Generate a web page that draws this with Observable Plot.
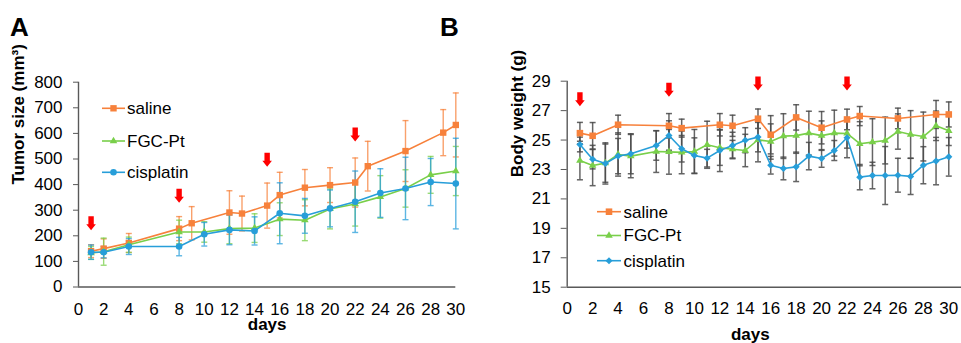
<!DOCTYPE html>
<html>
<head>
<meta charset="utf-8">
<script src="https://cdn.jsdelivr.net/npm/d3@7"></script>
<script src="https://cdn.jsdelivr.net/npm/@observablehq/plot@0.6"></script>
<style>
  html, body { margin: 0; padding: 0; background: #fff; }
  #wrap { position: relative; width: 961px; height: 343px; overflow: hidden;
          font-family: "Liberation Sans", Arial, Helvetica, sans-serif; background: #fff; }
  #wrap > svg, #wrap > div.p { position: absolute; top: 0; }
  .tag { position: absolute; top: 12px; font-weight: bold; font-size: 26px; line-height: 30px; }
  #legend { position: absolute; left: 0; top: 0; }
</style>
</head>
<body>
<div id="wrap"></div>
<script>
// ---------------- data ----------------
const seriesNames = ["saline", "FGC-Pt", "cisplatin"];
const seriesColors = ["#F7813B", "#79CF4A", "#279ED9"];
const symbolsA = ["square", "triangle", "circle"];
const symbolsB = ["square", "triangle", "diamond2"];

const xTicks = [0, 2, 4, 6, 8, 10, 12, 14, 16, 18, 20, 22, 24, 26, 28, 30];
const yTicksA = [0, 100, 200, 300, 400, 500, 600, 700, 800];
const yTicksB = [15, 17, 19, 21, 23, 25, 27, 29];

const doseDays = [1, 8, 15, 22];
const arrowTipsA = [222, 329, 470, 568];
const arrowTipsB = [27.3, 27.95, 28.37, 28.37];

// Panel A: tumor size (mm3)
const salineDaysA = [1, 2, 4, 8, 9, 12, 13, 15, 16, 18, 20, 22, 23, 26, 29, 30];
const tumorSaline    = [140, 150, 172, 228, 249, 291, 287, 318, 359, 388, 398, 408, 472, 531, 603, 633];
const tumorSalineErr = [25, 38, 37, 47, 65, 85, 68, 88, 89, 71, 68, 96, 97, 119, 90, 125];

const treatedDaysA = [1, 2, 4, 8, 10, 12, 14, 16, 18, 20, 22, 24, 26, 28, 30];
const tumorFGC    = [133, 138, 165, 215, 215, 228, 230, 265, 261, 305, 324, 352, 385, 438, 453];
const tumorFGCErr = [25, 53, 30, 46, 40, 59, 56, 64, 80, 78, 86, 83, 73, 72, 96];
const tumorCis    = [136, 136, 158, 158, 206, 223, 219, 288, 278, 307, 333, 367, 385, 410, 404];
const tumorCisErr = [28, 22, 31, 36, 46, 58, 55, 119, 68, 72, 120, 95, 122, 92, 177];

// Panel B: body weight (g)
const salineDaysB = [1, 2, 4, 8, 9, 12, 13, 15, 16, 18, 20, 22, 23, 26, 29, 30];
const weightSaline    = [25.47, 25.29, 26.04, 25.97, 25.81, 26.04, 25.97, 26.45, 25.36, 26.54, 25.84, 26.40, 26.63, 26.47, 26.74, 26.74];
const weightSalineErr = [0.73, 0.9, 0.65, 0.83, 0.61, 0.76, 0.72, 0.66, 1.3, 0.86, 1.1, 0.7, 0.65, 0.7, 0.95, 0.85];

const treatedDaysB = [1, 2, 3, 4, 5, 7, 8, 9, 10, 11, 12, 13, 14, 15, 16, 17, 18, 19, 20, 21, 22, 23, 24, 25, 26, 27, 28, 29, 30];
const weightFGC    = [23.61, 23.27, 23.43, 24.02, 23.91, 24.22, 24.2, 24.16, 24.22, 24.68, 24.48, 24.38, 24.29, 25.02, 24.9, 25.27, 25.3, 25.47, 25.3, 25.47, 25.45, 24.75, 24.86, 24.97, 25.58, 25.38, 25.24, 25.97, 25.63];
const weightFGCErr = [1.31, 1.37, 1.3, 1.47, 1.47, 1.42, 1.52, 1.45, 1.5, 1.6, 1.2, 0.6, 1.1, 1.5, 1.2, 1.52, 1.2, 1.49, 1.0, 1.56, 1.0, 1.5, 1.59, 1.59, 1.2, 1.62, 1.66, 1.0, 1.0];
const weightCis    = [24.70, 23.70, 23.41, 23.91, 24.07, 24.63, 25.31, 24.41, 23.95, 23.77, 24.29, 24.63, 24.99, 25.20, 23.29, 23.07, 23.18, 23.91, 23.75, 24.29, 25.16, 22.48, 22.59, 22.59, 22.61, 22.53, 23.29, 23.57, 23.86];
const weightCisErr = [0.5, 0.66, 1.4, 1.2, 1.36, 1.0, 1.0, 0.9, 1.2, 0.6, 1.43, 0.9, 0.85, 1.0, 0.6, 0.77, 1.0, 0.93, 0.6, 0.68, 1.36, 0.86, 0.9, 1.97, 1.15, 1.23, 1.26, 1.61, 1.31];

// ---------------- helpers ----------------
const FONT = '"Liberation Sans", Arial, Helvetica, sans-serif';
const AXIS = "#595959";
const toRows = (name, days, vals, errs) => days.map((d, i) => ({series: name, day: d, value: vals[i], err: errs[i]}));

const capSymbol = {draw(ctx) { ctx.moveTo(-3, 0); ctx.lineTo(3, 0); }};
const arrowSymbol = {draw(ctx) {
  ctx.moveTo(-2.7, -14); ctx.lineTo(2.7, -14); ctx.lineTo(2.7, -6); ctx.lineTo(4.8, -6);
  ctx.lineTo(0, 0); ctx.lineTo(-4.8, -6); ctx.lineTo(-2.7, -6); ctx.closePath();
}};

function panel(cfg) {
  const marks = [
    Plot.axisY({ticks: cfg.yTicks, tickSize: cfg.tickSize, tickPadding: cfg.tickPadding, stroke: AXIS, fill: "#000", label: null}),
    Plot.axisX({ticks: xTicks, tickSize: 0, tickPadding: cfg.xPad, fill: "#000", label: null}),
  ];
  // error bars
  cfg.series.forEach(s => {
    const col = cfg.errColor || s.color;
    marks.push(
      Plot.ruleX(s.rows, {x: "day", y1: d => d.value - d.err, y2: d => d.value + d.err, stroke: col, strokeWidth: cfg.errWidth, strokeOpacity: cfg.errOpacity}),
      Plot.dot(s.rows, {x: "day", y: d => d.value + d.err, symbol: capSymbol, stroke: col, fill: "none", strokeWidth: cfg.errWidth, strokeOpacity: cfg.errOpacity}),
      Plot.dot(s.rows, {x: "day", y: d => d.value - d.err, symbol: capSymbol, stroke: col, fill: "none", strokeWidth: cfg.errWidth, strokeOpacity: cfg.errOpacity})
    );
  });
  // lines + markers
  cfg.series.forEach(s => {
    marks.push(
      Plot.line(s.rows, {x: "day", y: "value", stroke: s.color, strokeWidth: 1.6}),
      Plot.dot(s.rows, {x: "day", y: "value", symbol: s.symbol, r: s.r, fill: s.color, stroke: "none"})
    );
  });
  // axis lines
  marks.push(
    Plot.ruleY([cfg.yDomain[0]], {stroke: AXIS, strokeWidth: 1.4}),
    Plot.ruleX([0], {stroke: AXIS, strokeWidth: 1.4})
  );
  // dosing arrows
  marks.push(Plot.dot(doseDays.map((d, i) => ({day: d, tip: cfg.arrows[i]})),
    {x: "day", y: "tip", symbol: arrowSymbol, fill: "#FF0000", stroke: "none"}));
  // axis titles
  marks.push(
    Plot.text([cfg.yTitle], {frameAnchor: "left", rotate: -90, dx: cfg.yTitleDx, dy: cfg.yTitleDy, fontWeight: "bold", fontSize: 17, fill: "#000"}),
    Plot.text(["days"], {frameAnchor: "bottom", lineAnchor: "bottom", dx: cfg.xTitleDx, dy: cfg.xTitleDy, fontWeight: "bold", fontSize: 17, fill: "#000"})
  );
  return Plot.plot({
    width: cfg.width, height: 343,
    marginLeft: cfg.ml, marginRight: cfg.mr, marginTop: cfg.mt, marginBottom: cfg.mb,
    style: {fontFamily: FONT, fontSize: "17px", color: "#000", background: "transparent", overflow: "visible"},
    x: {domain: cfg.xDomain},
    y: {domain: cfg.yDomain},
    marks
  });
}

const seriesA = [
  {color: seriesColors[0], symbol: symbolsA[0], r: 3.6, rows: toRows(seriesNames[0], salineDaysA, tumorSaline, tumorSalineErr)},
  {color: seriesColors[1], symbol: symbolsA[1], r: 2.8, rows: toRows(seriesNames[1], treatedDaysA, tumorFGC, tumorFGCErr)},
  {color: seriesColors[2], symbol: symbolsA[2], r: 3.3, rows: toRows(seriesNames[2], treatedDaysA, tumorCis, tumorCisErr)},
];
const seriesB = [
  {color: seriesColors[0], symbol: symbolsB[0], r: 3.7, rows: toRows(seriesNames[0], salineDaysB, weightSaline, weightSalineErr)},
  {color: seriesColors[1], symbol: symbolsB[1], r: 2.8, rows: toRows(seriesNames[1], treatedDaysB, weightFGC, weightFGCErr)},
  {color: seriesColors[2], symbol: symbolsB[2], r: 3.2, rows: toRows(seriesNames[2], treatedDaysB, weightCis, weightCisErr)},
];

const wrap = document.getElementById("wrap");

const svgA = panel({
  width: 480, ml: 78, mr: 24.7, mt: 81.7, mb: 56.5,
  xDomain: [0, 30], yDomain: [0, 800], yTicks: yTicksA,
  tickSize: 5, tickPadding: 11, xPad: 16,
  series: seriesA, errColor: null, errWidth: 1.4, errOpacity: 0.75,
  arrows: arrowTipsA,
  yTitle: "Tumor size (mm³)", yTitleDx: -60, yTitleDy: 0, xTitleDx: 0, xTitleDy: 43
});
svgA.style.left = "0px";
wrap.appendChild(svgA);

const svgB = panel({
  width: 481, ml: 86.7, mr: 0, mt: 80.7, mb: 56.3,
  xDomain: [0, 31], yDomain: [15, 29], yTicks: yTicksB,
  tickSize: 6, tickPadding: 10.5, xPad: 15,
  series: seriesB, errColor: "#4a4a4a", errWidth: 1.5, errOpacity: 0.85,
  arrows: arrowTipsB,
  yTitle: "Body weight (g)", yTitleDx: -50, yTitleDy: -7, xTitleDx: -14, xTitleDy: 53
});
svgB.style.left = "480px";
wrap.appendChild(svgB);

// panel tags
[["A", 10], ["B", 440]].forEach(([t, x]) => {
  const d = document.createElement("div");
  d.className = "tag"; d.textContent = t; d.style.left = x + "px";
  wrap.appendChild(d);
});

// legends
const lg = d3.select(wrap).append("svg").attr("id", "legend").attr("width", 961).attr("height", 343);
function drawLegend(x1, x2, tx, ys, symbols, rs) {
  seriesNames.forEach((name, i) => {
    const g = lg.append("g");
    g.append("line").attr("x1", x1).attr("x2", x2).attr("y1", ys[i]).attr("y2", ys[i])
      .attr("stroke", seriesColors[i]).attr("stroke-width", 1.6);
    const symMap = {square: d3.symbolSquare, triangle: d3.symbolTriangle, circle: d3.symbolCircle, diamond2: d3.symbolDiamond2};
    g.append("path").attr("d", d3.symbol(symMap[symbols[i]], Math.PI * rs[i] * rs[i])())
      .attr("transform", `translate(${(x1 + x2) / 2},${ys[i]})`).attr("fill", seriesColors[i]);
    g.append("text").attr("x", tx).attr("y", ys[i]).attr("dy", "0.35em")
      .attr("font-family", FONT).attr("font-size", 17).attr("fill", "#000").text(name);
  });
}
drawLegend(102, 125, 127, [108.3, 141, 172.3], symbolsA, [3.6, 2.8, 3.3]);
drawLegend(597, 621, 623.5, [211.7, 235.5, 260.7], symbolsB, [3.7, 2.8, 3.2]);
</script>
</body>
</html>
